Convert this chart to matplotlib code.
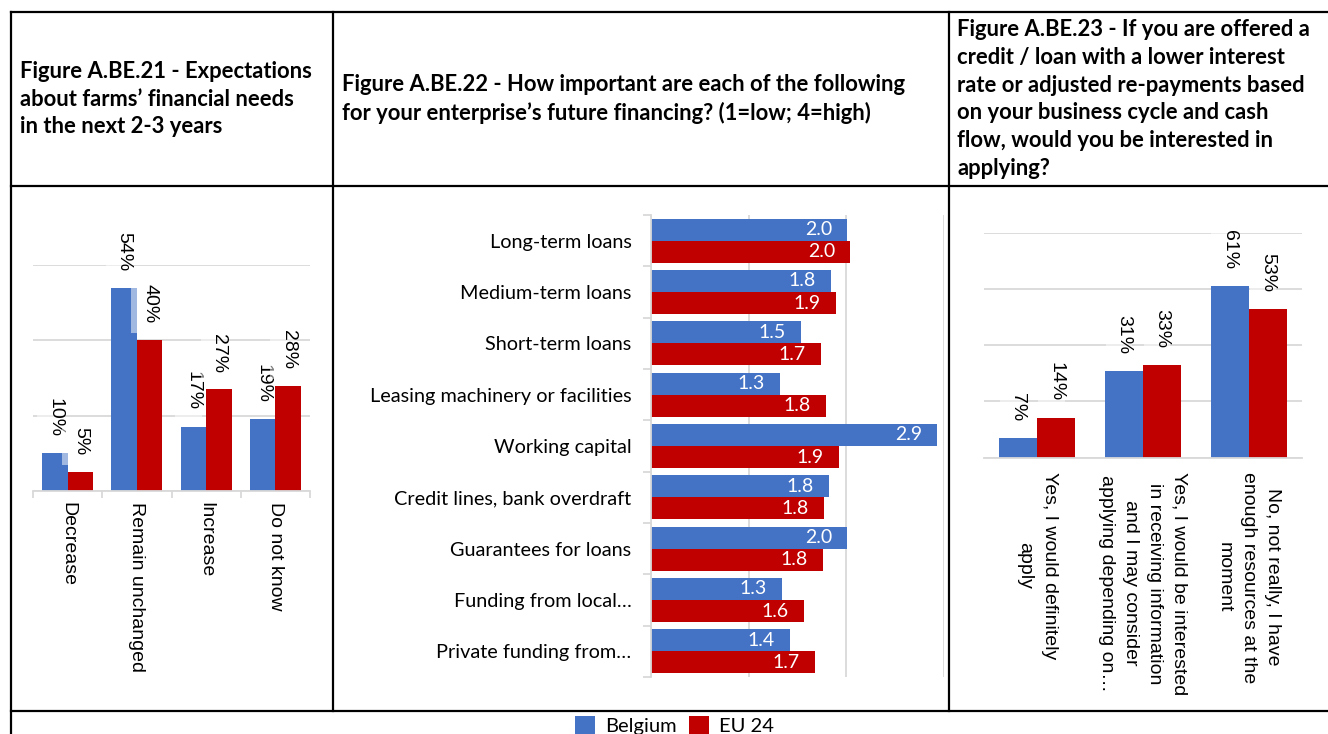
import numpy as np
import matplotlib.pyplot as plt
from matplotlib.lines import Line2D
from matplotlib.path import Path

W, H = 1328, 734
BLUE = '#4472C4'
RED = '#C00000'
GRID = '#D9D9D9'
ARIAL = 'Liberation Sans'
CALIBRI = 'Lato'

# Figure A.BE.21 - expectations about financial needs
needs_cats = ['Decrease', 'Remain unchanged', 'Increase', 'Do not know']
needs_be = [0.10, 0.54, 0.17, 0.19]
needs_eu = [0.05, 0.40, 0.27, 0.28]

# Figure A.BE.22 - importance of financing sources (1=low; 4=high)
fin_cats = ['Long-term loans', 'Medium-term loans', 'Short-term loans',
            'Leasing machinery or facilities', 'Working capital',
            'Credit lines, bank overdraft', 'Guarantees for loans',
            'Funding from local…', 'Private funding from…']
fin_be = [2.01, 1.84, 1.54, 1.32, 2.93, 1.82, 2.01, 1.34, 1.42]
fin_eu = [2.04, 1.89, 1.74, 1.79, 1.92, 1.77, 1.76, 1.57, 1.68]

# Figure A.BE.23 - interest in a credit with lower rate
loan_cats = ['Yes, I would definitely\napply',
             'Yes, I would be interested\nin receiving information\nand I may consider\napplying depending on…',
             'No, not really, I have\nenough resources at the\nmoment']
loan_be = [0.07, 0.31, 0.61]
loan_eu = [0.14, 0.33, 0.53]

titles = ['Figure A.BE.21 - Expectations\nabout farms’ financial needs\nin the next 2-3 years',
          'Figure A.BE.22 - How important are each of the following\nfor your enterprise’s future financing? (1=low; 4=high)',
          'Figure A.BE.23 - If you are offered a\ncredit / loan with a lower interest\nrate or adjusted re-payments based\non your business cycle and cash\nflow, would you be interested in\napplying?']

fig = plt.figure(figsize=(W / 100, H / 100), dpi=100)


def fx(px):
    return px / W


def fy(py):
    return 1 - py / H


def excel_box(x0, y0, width, height, mutation_size):
    # label box that sticks out past the end of the text and below it
    e = 0.5 * mutation_size
    return Path([(x0, y0 - e), (x0 + width + e, y0 - e), (x0 + width + e, y0 + height),
                 (x0, y0 + height), (x0, y0 - e)], closed=True)


def pct_labels(ax, xs, vals):
    for xx, v in zip(xs, vals):
        ax.annotate(f'{v:.0%}', (xx, v), xytext=(0, 12), textcoords='offset points',
                    rotation=270, ha='center', va='bottom', fontsize=14, family=ARIAL,
                    zorder=3, bbox=dict(boxstyle=excel_box, fc='white', ec='none', alpha=0.5))


def column_chart(ax, cats, be, eu, w, ymax, pad, ticks, lsp):
    x = np.arange(len(cats))
    ax.bar(x - w / 2, be, w, color=BLUE, label='Belgium')
    ax.bar(x + w / 2, eu, w, color=RED, label='EU 24')
    ax.set_xlim(-0.5, len(cats) - 0.5)
    ax.set_ylim(0, ymax)
    ax.set_yticks(np.arange(0, ymax + 0.01, 0.2))
    ax.yaxis.grid(True, color=GRID, lw=1.3)
    ax.set_axisbelow(True)
    ax.tick_params(axis='y', length=0, labelleft=False)
    for s in ['top', 'right', 'left']:
        ax.spines[s].set_visible(False)
    ax.spines['bottom'].set_color(GRID)
    ax.spines['bottom'].set_linewidth(1.3)
    ax.set_xticks(x)
    ax.set_xticklabels(cats, rotation=270, va='top', ha='center', multialignment='center',
                       fontsize=14, family=ARIAL, linespacing=lsp)
    ax.tick_params(axis='x', which='major', length=0, pad=pad)
    if ticks:
        ax.set_xticks(np.arange(-0.5, len(cats), 1), minor=True)
        ax.tick_params(axis='x', which='minor', length=5, color=GRID, width=1.3)
    pct_labels(ax, x - w / 2, be)
    pct_labels(ax, x + w / 2, eu)


# left chart
ax1 = fig.add_axes([fx(33), fy(491), fx(277), 226 / H])
column_chart(ax1, needs_cats, needs_be, needs_eu, 0.37, 0.6, 8, True, 1.2)

# middle chart
ax2 = fig.add_axes([fx(651), fy(677), fx(293), 462 / H])
y = np.arange(len(fin_cats))
h = 0.43
ax2.barh(y - h / 2, fin_be, h, color=BLUE)
ax2.barh(y + h / 2, fin_eu, h, color=RED)
ax2.set_ylim(len(fin_cats) - 0.5, -0.5)
ax2.set_xlim(0, 3)
ax2.set_xticks([0, 1, 2, 3])
ax2.xaxis.grid(True, color=GRID, lw=1.3)
ax2.set_axisbelow(True)
ax2.tick_params(axis='x', length=0, labelbottom=False)
for s in ['top', 'right', 'bottom']:
    ax2.spines[s].set_visible(False)
ax2.spines['left'].set_color(GRID)
ax2.spines['left'].set_linewidth(1.3)
ax2.set_yticks(y)
ax2.set_yticklabels(fin_cats, fontsize=14.3, family=CALIBRI)
ax2.set_yticks(np.arange(-0.5, len(fin_cats), 1), minor=True)
ax2.tick_params(axis='y', which='major', length=0, pad=14)
ax2.tick_params(axis='y', which='minor', length=6, color=GRID, width=1.3)
for yy, v in zip(y - h / 2, fin_be):
    ax2.annotate(f'{v:.1f}', (v, yy), xytext=(-11, 0), textcoords='offset points',
                 ha='right', va='center', color='white', fontsize=14, family=CALIBRI)
for yy, v in zip(y + h / 2, fin_eu):
    ax2.annotate(f'{v:.1f}', (v, yy), xytext=(-11, 0), textcoords='offset points',
                 ha='right', va='center', color='white', fontsize=14, family=CALIBRI)

# right chart
ax3 = fig.add_axes([fx(984), fy(457.7), fx(317.7), 225 / H])
column_chart(ax3, loan_cats, loan_be, loan_eu, 0.36, 0.8, 10, False, 1.55)

# table frame
lines = [((11, 1328), (12, 12)), ((11, 1328), (186, 186)), ((11, 1328), (711, 711)),
         ((11, 11), (12, 734)), ((333, 333), (12, 711)), ((949, 949), (12, 711))]
for xs, ys in lines:
    fig.add_artist(Line2D([fx(v) for v in xs], [fy(v) for v in ys], color='black',
                          lw=1.6, transform=fig.transFigure))

# header texts
for xpos, t in zip([20, 342, 957], titles):
    fig.text(fx(xpos), fy(99), t, ha='left', va='center', fontsize=15.8, fontweight='bold',
             family=CALIBRI, linespacing=1.4)

handles, labels = ax1.get_legend_handles_labels()
fig.legend(handles, labels, loc='center', bbox_to_anchor=(0.508, 0.012), ncol=2,
           frameon=False, handlelength=1.0, handleheight=1.0, columnspacing=0.6,
           handletextpad=0.5, prop={'family': CALIBRI, 'size': 14.5})

fig.savefig('out.png', dpi=100)
